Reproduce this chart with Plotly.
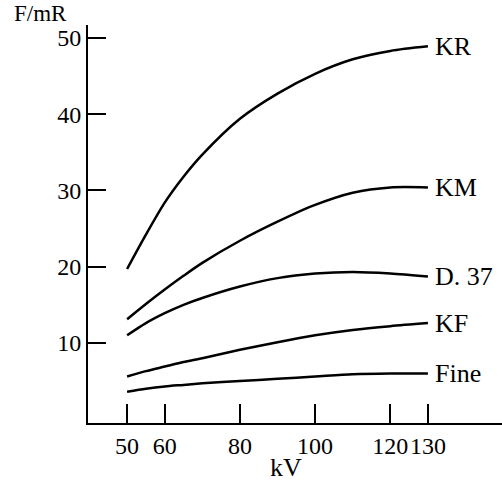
import plotly.graph_objects as go

kv = [50, 55, 60, 65, 70, 80, 90, 100, 110, 120, 130]
kr = [19.7, 24.2, 28.4, 31.8, 34.7, 39.4, 42.7, 45.3, 47.2, 48.3, 48.9]
km = [13.1, 15.1, 17.0, 18.8, 20.5, 23.4, 25.9, 28.1, 29.7, 30.4, 30.4]
d37 = [11.0, 12.6, 13.9, 15.0, 15.9, 17.4, 18.5, 19.1, 19.3, 19.1, 18.7]
kf = [5.6, 6.3, 6.9, 7.5, 8.0, 9.1, 10.1, 11.0, 11.7, 12.2, 12.6]
fine = [3.6, 4.0, 4.3, 4.5, 4.7, 5.0, 5.3, 5.6, 5.9, 6.0, 6.0]

series = [("KR", kr), ("KM", km), ("D. 37", d37), ("KF", kf), ("Fine", fine)]

x_ticks = [50, 60, 80, 100, 120, 130]
y_ticks = [10, 20, 30, 40, 50]

FONT = "Liberation Serif"

fig = go.Figure()
for name, vals in series:
    fig.add_trace(go.Scatter(x=kv, y=vals, mode="lines", name=name,
                             line=dict(color="black", width=2.5, shape="spline", smoothing=0.8),
                             showlegend=False, hoverinfo="skip"))
    fig.add_annotation(x=kv[-1], y=vals[-1], text=name, showarrow=False,
                       xanchor="left", yanchor="middle", xshift=5,
                       font=dict(family=FONT, size=26, color="black"))

fig.add_annotation(xref="paper", yref="paper", x=-0.18, y=1.0, yshift=12,
                   text="F/mR", showarrow=False, xanchor="left", yanchor="middle",
                   borderpad=0,
                   font=dict(family=FONT, size=23, color="black"))
fig.add_annotation(xref="x", yref="paper", x=92.3, y=0, yshift=-44,
                   text="kV", showarrow=False, xanchor="center", yanchor="middle",
                   font=dict(family=FONT, size=26, color="black"))

fig.update_xaxes(range=[39.6, 149.7], tickvals=x_ticks, ticktext=[str(v) for v in x_ticks],
                 ticks="inside", ticklen=19, tickwidth=2, tickcolor="black", tickangle=0,
                 showline=True, linecolor="black", linewidth=2,
                 showgrid=False, zeroline=False,
                 tickfont=dict(family=FONT, size=24, color="black"))
fig.update_yaxes(range=[-0.5, 51.7], tickvals=y_ticks, ticktext=[str(v) for v in y_ticks],
                 ticks="inside", ticklen=18, tickwidth=2, tickcolor="black",
                 showline=True, linecolor="black", linewidth=2,
                 showgrid=False, zeroline=False,
                 tickfont=dict(family=FONT, size=24, color="black"))

fig.update_layout(width=502, height=487, margin=dict(l=88, r=0, t=25, b=64),
                  plot_bgcolor="white", paper_bgcolor="white")

fig.write_html("out.html")
